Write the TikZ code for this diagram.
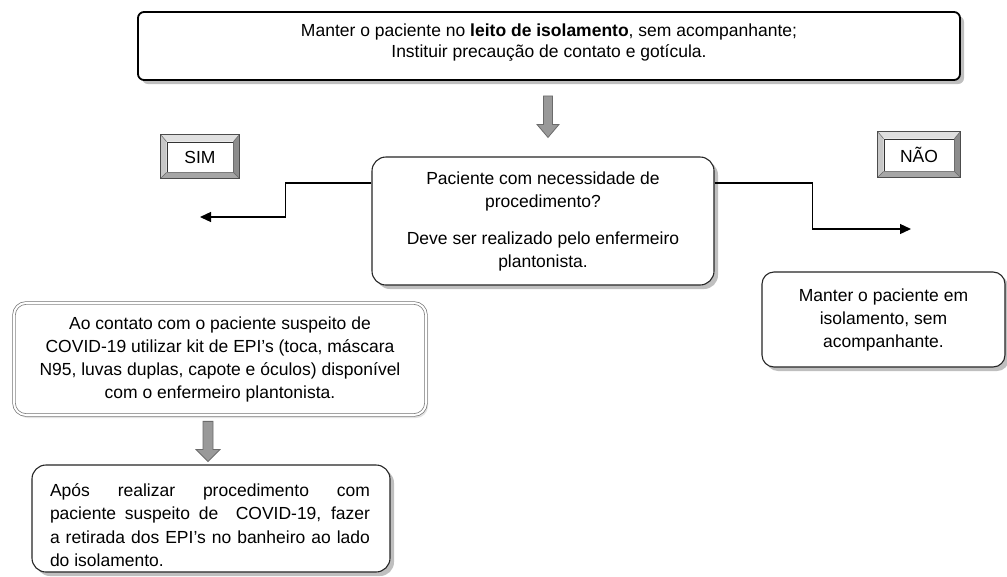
\documentclass[tikz,border=0pt]{standalone}
\usepackage{fontspec}
\setmainfont{Liberation Sans}
\usetikzlibrary{shadows,arrows.meta,calc}
\newcommand{\bevelbox}[1]{%
  \fill[black!12] ([shift={(-6pt,7pt)}]#1.north west) -- ([shift={(6pt,7pt)}]#1.north east) -- (#1.north east) -- (#1.north west) -- cycle;
  \fill[black!22] ([shift={(-6pt,7pt)}]#1.north west) -- (#1.north west) -- (#1.south west) -- ([shift={(-6pt,-6pt)}]#1.south west) -- cycle;
  \fill[black!45] ([shift={(6pt,7pt)}]#1.north east) -- ([shift={(6pt,-6pt)}]#1.south east) -- (#1.south east) -- (#1.north east) -- cycle;
  \fill[black!35] ([shift={(-6pt,-6pt)}]#1.south west) -- ([shift={(6pt,-6pt)}]#1.south east) -- (#1.south east) -- (#1.south west) -- cycle;
  \draw[black!60, line width=0.5pt] ([shift={(-6pt,7pt)}]#1.north west) -- (#1.north west)
     ([shift={(6pt,7pt)}]#1.north east) -- (#1.north east)
     ([shift={(-6pt,-6pt)}]#1.south west) -- (#1.south west)
     ([shift={(6pt,-6pt)}]#1.south east) -- (#1.south east);
  \draw[black!70, line width=0.9pt] ([shift={(-6pt,7pt)}]#1.north west) rectangle ([shift={(6pt,-6pt)}]#1.south east);
}
\begin{document}
\begin{tikzpicture}[x=1pt,y=-1pt,
  txt/.style={font=\fontsize{17.5pt}{23pt}\selectfont, inner sep=0pt, align=center},
  roundbox/.style={draw=black!85, line width=1.1pt, fill=white, rounded corners=#1,
     drop shadow={shadow xshift=4pt,shadow yshift=-4pt,fill=black!50}},
  roundbox/.default=12pt,
  btn/.style={draw=black!80, line width=0.8pt, fill=white, inner sep=0pt,
     font=\fontsize{17.5pt}{23pt}\selectfont},
  conn/.style={line width=1.3pt, -{Triangle[length=11pt,width=10pt]}},
  fat/.style={fill=black!40, draw=black!58, line width=0.8pt}
]
\fill[white] (0,0) rectangle (1007,576);
\useasboundingbox (0,0) rectangle (1007,576);

% top box
\node[draw=black, line width=1.8pt, fill=white, rounded corners=6pt,
      drop shadow={shadow xshift=4pt,shadow yshift=-4pt,fill=black!50},
      minimum width=822pt, minimum height=68pt, inner sep=0pt] (top) at (549,46) {};
\node[txt, font=\fontsize{17.5pt}{21pt}\selectfont] (toptxt) at (549,43)
  {Manter o paciente no \textbf{leito de isolamento}, sem acompanhante;\\Instituir precaução de contato e gotícula.};

% central decision box
\node[roundbox=14pt, txt, minimum width=342pt, minimum height=128pt] (mid) at (543,221)
  {Paciente com necessidade de\\procedimento?\\[14pt]Deve ser realizado pelo enfermeiro\\plantonista.};

% SIM / NAO buttons
\node[btn, minimum width=66pt, minimum height=30pt] (sim) at (200,157) {SIM};
\bevelbox{sim}
\node[btn, minimum width=70pt, minimum height=32pt] (nao) at (919,155) {NÃO};
\bevelbox{nao}

% right box
\node[roundbox=12pt, txt, minimum width=243pt, minimum height=95pt] (right) at (883.5,319.5)
  {Manter o paciente em\\isolamento, sem\\acompanhante.};

% left box
\node[txt, draw=black!55, line width=0.7pt, double=white, double distance=2pt, fill=white,
      rounded corners=12pt, drop shadow={shadow xshift=2pt,shadow yshift=-3pt,fill=black!22},
      minimum width=412pt, minimum height=112pt] (left) at (220,359)
  {Ao contato com o paciente suspeito de\\COVID-19 utilizar kit de EPI’s (toca, máscara\\N95, luvas duplas, capote e óculos) disponível\\com o enfermeiro plantonista.};

% bottom box
\node[roundbox=14pt, minimum width=358pt, minimum height=107pt, inner sep=0pt] (bot) at (211,518.5) {};
\node[txt, font=\fontsize{17.5pt}{23.5pt}\selectfont, text width=320pt, align=justify] (bottxt) at (210,525)
  {Após realizar procedimento com\linebreak paciente suspeito de\ \ COVID-19, fazer\linebreak a retirada dos EPI’s no banheiro ao lado\linebreak do isolamento.};

% connectors
\coordinate (simtip) at (200,217);
\coordinate (naotip) at (911,229);
\draw[conn] ([yshift=38pt]mid.west) -- ++(-86pt,0) |- (simtip);
\draw[conn] ([yshift=38pt]mid.east) -- ++(98pt,0) |- (naotip);

% fat gray arrows
\coordinate (fa1) at ([xshift=-1pt,yshift=-15pt]top.south);
\coordinate (fa2) at ([yshift=19pt]fa1 |- mid.north);
\path[fat] let \p1=(fa1), \p2=(fa2) in
  (\x1-4.5pt,\y1) -- (\x1+4.5pt,\y1) -- (\x1+4.5pt,\y2+13pt) -- (\x1+11pt,\y2+13pt)
  -- (\x2,\y2) -- (\x1-11pt,\y2+13pt) -- (\x1-4.5pt,\y2+13pt) -- cycle;
\coordinate (fa3) at ([xshift=-12pt,yshift=-6pt]left.south);
\coordinate (fa4) at ([yshift=3pt]fa3 |- bot.north);
\path[fat] let \p1=(fa3), \p2=(fa4) in
  (\x1-5pt,\y1) -- (\x1+5pt,\y1) -- (\x1+5pt,\y2+12pt) -- (\x1+12pt,\y2+12pt)
  -- (\x2,\y2) -- (\x1-12pt,\y2+12pt) -- (\x1-5pt,\y2+12pt) -- cycle;
\end{tikzpicture}
\end{document}
